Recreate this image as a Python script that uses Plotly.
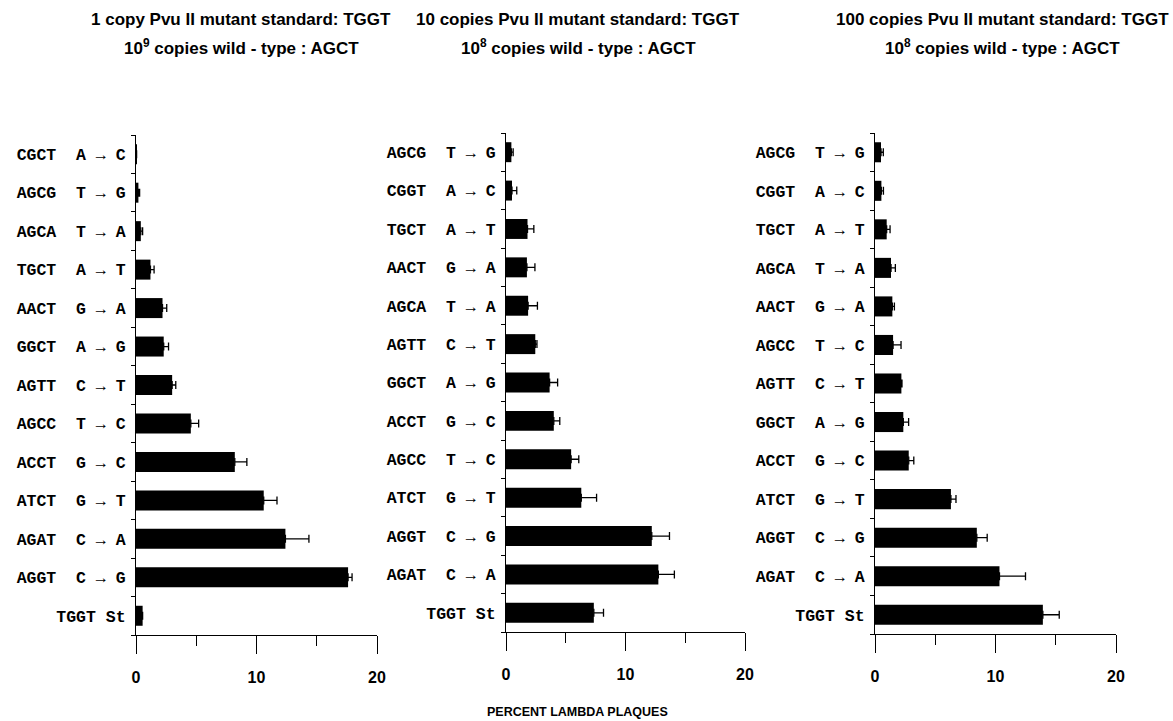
import plotly.graph_objects as go

# ---------------- data ----------------
seq1 = ["CGCT", "AGCG", "AGCA", "TGCT", "AACT", "GGCT", "AGTT", "AGCC", "ACCT", "ATCT", "AGAT", "AGGT", "TGGT"]
mut1 = ["A → C", "T → G", "T → A", "A → T", "G → A", "A → G", "C → T", "T → C", "G → C", "G → T", "C → A", "C → G", "St"]
val1 = [0.05, 0.2, 0.4, 1.2, 2.2, 2.3, 3.0, 4.55, 8.2, 10.6, 12.4, 17.6, 0.55]
err1 = [None, 0.1, 0.15, 0.3, 0.35, 0.4, 0.3, 0.65, 1.0, 1.1, 1.95, 0.33, None]

seq2 = ["AGCG", "CGGT", "TGCT", "AACT", "AGCA", "AGTT", "GGCT", "ACCT", "AGCC", "ATCT", "AGGT", "AGAT", "TGGT"]
mut2 = ["T → G", "A → C", "A → T", "G → A", "T → A", "C → T", "A → G", "G → C", "T → C", "G → T", "C → G", "C → A", "St"]
val2 = [0.45, 0.5, 1.8, 1.75, 1.85, 2.45, 3.65, 4.0, 5.45, 6.3, 12.2, 12.75, 7.35]
err2 = [0.15, 0.4, 0.53, 0.67, 0.78, 0.14, 0.67, 0.5, 0.64, 1.28, 1.48, 1.34, 0.81]

seq3 = ["AGCG", "CGGT", "TGCT", "AGCA", "AACT", "AGCC", "AGTT", "GGCT", "ACCT", "ATCT", "AGGT", "AGAT", "TGGT"]
mut3 = ["T → G", "A → C", "A → T", "T → A", "G → A", "T → C", "C → T", "A → G", "G → C", "G → T", "C → G", "C → A", "St"]
val3 = [0.5, 0.53, 0.97, 1.33, 1.44, 1.5, 2.19, 2.35, 2.8, 6.3, 8.45, 10.33, 13.93]
err3 = [0.19, 0.17, 0.28, 0.36, 0.17, 0.66, 0.05, 0.44, 0.42, 0.42, 0.86, 2.16, 1.36]

titles_line1 = ["1 copy Pvu II mutant standard: TGGT",
                "10 copies Pvu II mutant standard: TGGT",
                "100 copies Pvu II mutant standard: TGGT"]
titles_line2 = ["10<sup>9</sup> copies wild - type : AGCT",
                "10<sup>8</sup> copies wild - type : AGCT",
                "10<sup>8</sup> copies wild - type : AGCT"]
x_tick_vals = [0, 10, 20]
x_title = "PERCENT LAMBDA PLAQUES"

# ---------------- layout helpers ----------------
W, H = 1173, 721
def px(x):
    return x / W
def py(y):
    return 1 - y / H

panels = [
    dict(seq=seq1, mut=mut1, val=val1, err=err1, x0=136, x1=377, yt=135, yb=635, tx=241),
    dict(seq=seq2, mut=mut2, val=val2, err=err2, x0=506, x1=745, yt=133, yb=632, tx=578),
    dict(seq=seq3, mut=mut3, val=val3, err=err3, x0=875, x1=1116, yt=133, yb=634, tx=1002),
]

fig = go.Figure()
annotations = []
title_font = dict(family="Liberation Sans", size=17, color="black", weight="bold")

for i, p in enumerate(panels):
    n = i + 1
    xa = "x" if n == 1 else f"x{n}"
    ya = "y" if n == 1 else f"y{n}"
    labels = [f"{s}  {m}" if m != "St" else f"{s} {m}" for s, m in zip(p["seq"], p["mut"])]
    errs = list(p["err"])
    fig.add_trace(go.Bar(
        x=p["val"], y=labels, orientation="h",
        marker=dict(color="black", line=dict(width=0)),
        error_x=dict(type="data", array=errs, arrayminus=[0] * len(errs), symmetric=False,
                     color="black", thickness=1.3, width=4),
        xaxis=xa, yaxis=ya, showlegend=False,
    ))
    xkey = "xaxis" if n == 1 else f"xaxis{n}"
    ykey = "yaxis" if n == 1 else f"yaxis{n}"
    fig.update_layout(**{
        xkey: dict(domain=[px(p["x0"]), px(p["x1"])], anchor=ya, range=[0, 20],
                   tickvals=x_tick_vals, ticks="outside", ticklen=18, tickwidth=1.3,
                   tickcolor="black", showline=True, linecolor="black", linewidth=1.3,
                   showgrid=False, zeroline=False, automargin=False,
                   ticklabelstandoff=10,
                   tickfont=dict(family="Liberation Sans", size=16, color="black", weight="bold"),
                   minor=dict(dtick=5, ticks="outside", ticklen=10, tickwidth=1.3,
                              tickcolor="black", showgrid=False)),
        ykey: dict(domain=[py(p["yb"]), py(p["yt"])], anchor=xa, type="category",
                   categoryorder="array", categoryarray=labels[::-1],
                   tickson="boundaries", ticks="outside", ticklen=4, tickwidth=1.2,
                   tickcolor="black", showline=True, linecolor="black", linewidth=1.3,
                   showgrid=False, zeroline=False, automargin=False,
                   ticklabelstandoff=6,
                   tickfont=dict(family="Liberation Mono", size=16.5, color="black", weight="bold")),
    })
    annotations.append(dict(text=titles_line1[i], x=px(p["tx"]), y=py(20), xref="paper", yref="paper",
                            xanchor="center", yanchor="middle", showarrow=False, font=title_font))
    annotations.append(dict(text=titles_line2[i], x=px(p["tx"]), y=py(47), xref="paper", yref="paper",
                            xanchor="center", yanchor="middle", showarrow=False, font=title_font))

annotations.append(dict(text=x_title, x=px(577), y=py(712), xref="paper", yref="paper",
                        xanchor="center", yanchor="middle", showarrow=False,
                        font=dict(family="Liberation Sans", size=12.5, color="black", weight="bold")))

fig.update_layout(
    width=W, height=H, margin=dict(l=0, r=0, t=0, b=0),
    paper_bgcolor="white", plot_bgcolor="white",
    bargap=0.48, annotations=annotations,
)

fig.write_html("out.html", config={"displayModeBar": False},
               post_script="document.body.style.margin='0';document.body.style.overflow='hidden';")
